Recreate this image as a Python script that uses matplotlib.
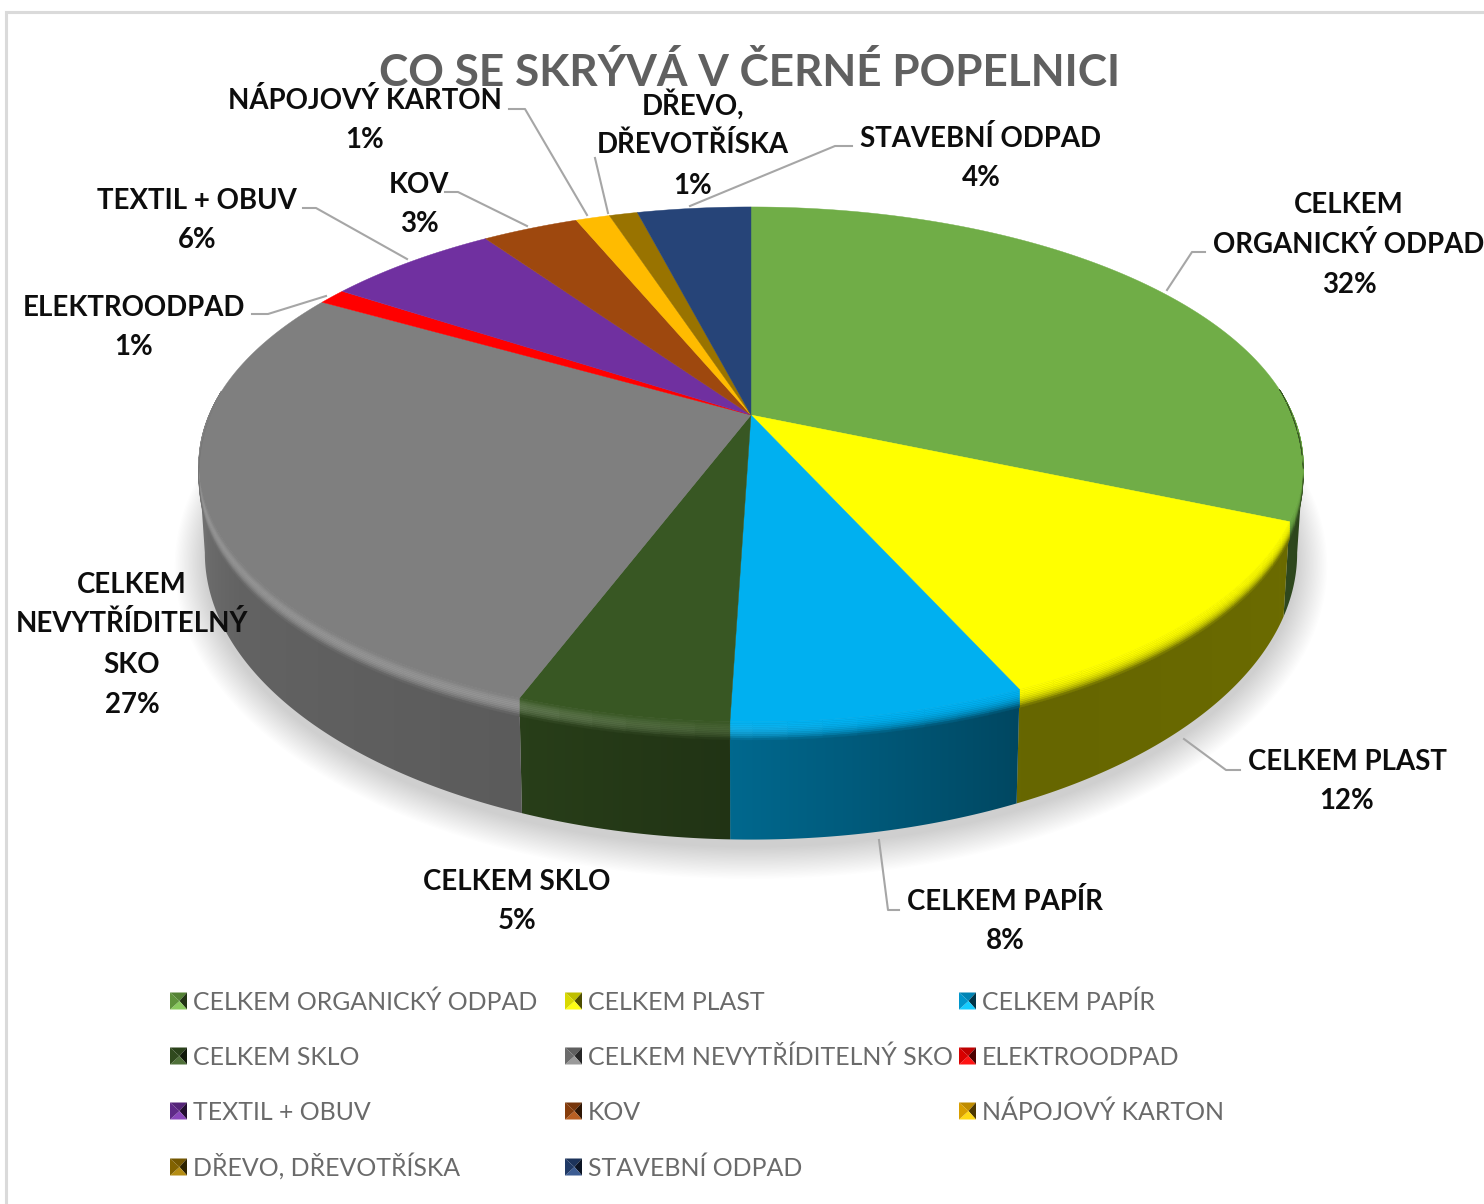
import numpy as np
import matplotlib
matplotlib.use("Agg")
import matplotlib.pyplot as plt
from matplotlib.collections import PolyCollection
from matplotlib.colors import to_rgb
from matplotlib.patches import PathPatch
from matplotlib.path import Path

categories = ["CELKEM ORGANICKÝ ODPAD", "CELKEM PLAST", "CELKEM PAPÍR", "CELKEM SKLO",
              "CELKEM NEVYTŘÍDITELNÝ SKO", "ELEKTROODPAD", "TEXTIL + OBUV", "KOV",
              "NÁPOJOVÝ KARTON", "DŘEVO, DŘEVOTŘÍSKA", "STAVEBNÍ ODPAD"]
values = [31.5, 11.8, 7.2, 5.2, 27.6, 1.0, 6.1, 3.4, 1.2, 1.0, 4.0]
pct_labels = ["32%", "12%", "8%", "5%", "27%", "1%", "6%", "3%", "1%", "1%", "4%"]
colors = ["#70AD47", "#FFFF00", "#00B0F0", "#385723", "#7F7F7F", "#FF0000",
          "#7030A0", "#9E480E", "#FFBB00", "#997300", "#264478"]
title = "CO SE SKRÝVÁ V ČERNÉ POPELNICI"

plt.rcParams["font.family"] = ["Lato", "DejaVu Sans"]
fig = plt.figure(figsize=(14.84, 12.04), dpi=100, facecolor="white")
ax = fig.add_axes([0, 0, 1, 1])
ax.axis("off")

# perspective geometry of the disc
CX, K = 751.0, 0.192
TOP = dict(yc=415.0, a=542.0, b=248.0)
BASE = dict(yc=498.0, a=536.0, b=276.0)


def project(theta_deg, r, plane):
    t = np.radians(theta_deg)
    x, y = r * np.sin(t), r * np.cos(t)
    w = 1 + K * y
    return CX + plane["a"] * x / w, plane["yc"] - plane["b"] * y / w


def rim_curve(theta_deg, s):
    """Rounded rim: s=0 is the edge of the flat face, s=1 where it meets the wall."""
    x, y = project(theta_deg, 1, TOP)
    g = np.interp(theta_deg, [85, 112, 250, 275], [0, 1, 1, 0])
    return x, y + 18 * g * s


wall_ang = [0, 100, 115, 155, 180, 201, 240, 259, 275, 360]
wall_fac = [.4, .4, .42, .40, .58, .72, .78, .88, 1.0, 1.0]

edges = np.concatenate([[0], np.cumsum(values)]) / np.sum(values) * 360

# soft shadow under the disc
for i in range(24):
    plane = dict(yc=BASE["yc"] + 8, a=BASE["a"] * (1 + 0.0024 * i), b=BASE["b"] * (1 + 0.0040 * i))
    px, py = project(np.linspace(0, 360, 361), 1, plane)
    ax.fill(px, py, color="#000000", alpha=0.009, lw=0, zorder=1)

# side wall: one clipped horizontal gradient per slice (front half only)
for v0, v1, c in zip(edges[:-1], edges[1:], colors):
    rgb = np.array(to_rgb(c))
    lo, hi = max(v0, 101), min(v1, 259)
    if lo >= hi:
        continue
    th = np.linspace(lo, hi, 160)
    xt, yt = project(th, 1, TOP)
    xb, yb = project(th, 1, BASE)
    verts = list(zip(xt, yt)) + list(zip(xb[::-1], yb[::-1])) + [(xt[0], yt[0])]
    path = Path(verts, closed=True)
    xmin, xmax = min(xt.min(), xb.min()) - 2, max(xt.max(), xb.max()) + 2
    ymin, ymax = min(yt.min(), yb.min()) - 2, max(yt.max(), yb.max()) + 2
    xs = np.arange(xmin, xmax, 1.0)
    t_of_x = np.interp(xs, xb[::-1], th[::-1])
    grad = rgb[None, None, :] * np.interp(t_of_x, wall_ang, wall_fac)[None, :, None]
    im = ax.imshow(np.clip(grad, 0, 1), extent=(xmin, xmax, ymax, ymin), aspect="auto",
                   interpolation="bilinear", zorder=2)
    im.set_clip_path(PathPatch(path, transform=ax.transData))

ax.set_xlim(0, 1484)
ax.set_ylim(1204, 0)

# top face with rounded rim
ring_s = np.linspace(0, 1, 11)
polys, cols = [], []
for v0, v1, c in zip(edges[:-1], edges[1:], colors):
    rgb = np.array(to_rgb(c))
    th = np.linspace(v0, v1, max(int((v1 - v0) * 2) + 2, 3))
    fx, fy = rim_curve(th, 0.0)
    polys.append([(CX, TOP["yc"])] + list(zip(fx, fy)))
    cols.append(rgb)
    chunks = np.arange(v0, v1, 3.0).tolist() + [v1]
    for t0, t1 in zip(chunks[:-1], chunks[1:]):
        tm = (t0 + t1) / 2
        if t1 <= 85 or t0 >= 275:
            continue
        tt = np.linspace(t0, t1, 9)
        for s0, s1 in zip(ring_s[:-1], ring_s[1:]):
            xa, ya = rim_curve(tt, s0)
            xb, yb = rim_curve(tt, s1)
            sm = (s0 + s1) / 2
            f = np.interp(tm, wall_ang, wall_fac)
            gl = 0.2 * np.interp(tm, [170, 200, 250, 275], [0, 1, 1, 0]) * np.sin(np.pi * sm)
            col = rgb * (1 - sm ** 2.5) + rgb * f * sm ** 2.5 + (1 - rgb) * gl
            polys.append(list(zip(xa, ya)) + list(zip(xb[::-1], yb[::-1])))
            cols.append(np.clip(col, 0, 1))
ax.add_collection(PolyCollection(polys, facecolors=cols, edgecolors=cols, linewidths=0.3, zorder=3))

# frame
ax.plot([6, 6, 1484], [1204, 12, 12], color="#DADADA", lw=2.2, zorder=0, solid_joinstyle="miter")

# title
ax.text(750, 86, title, ha="center", va="baseline", fontsize=31.8, fontweight="bold", color="#606060", zorder=4)

# leader lines
leaders = [
    [(1167, 290), (1192, 252), (1205, 252)],
    [(1184, 739), (1226, 770), (1240, 770)],
    [(879, 840), (888, 910), (899, 910)],
    [(690, 206), (835, 146), (852, 146)],
    [(608, 213), (595, 158)],
    [(587, 215), (525, 109), (509, 109)],
    [(527, 226), (458, 192), (445, 192)],
    [(407, 259), (316, 208), (303, 208)],
    [(326, 296), (268, 314), (252, 314)],
]
for seg in leaders:
    xs, ys = zip(*seg)
    ax.plot(xs, ys, color="#A6A6A6", lw=1.5, zorder=4)

# data labels: (category lines, centre x, line centres y)
label_lines = [
    (["CELKEM", "ORGANICKÝ ODPAD"], 1349, [203, 243, 283]),
    (["CELKEM PLAST"], 1347, [760, 799]),
    (["CELKEM PAPÍR"], 1005, [900, 939]),
    (["CELKEM SKLO"], 517, [880, 919]),
    (["CELKEM", "NEVYTŘÍDITELNÝ", "SKO"], 132, [583, 622, 663, 703]),
    (["ELEKTROODPAD"], 134, [306, 345]),
    (["TEXTIL + OBUV"], 197, [199, 238]),
    (["KOV"], 419, [183, 222]),
    (["NÁPOJOVÝ KARTON"], 365, [99, 138]),
    (["DŘEVO,", "DŘEVOTŘÍSKA"], 693, [105, 143, 184]),
    (["STAVEBNÍ ODPAD"], 981, [137, 176]),
]
for (lines, xc, ys), pct in zip(label_lines, pct_labels):
    for s, y in zip(lines + [pct], ys):
        ax.text(xc, y + 10, s, ha="center", va="baseline", fontsize=19.9, fontweight="bold",
                color="#0D0D0D", zorder=5, clip_on=True)

# legend
legend_col_x = [170, 565, 959]
legend_row_y = [1001, 1056, 1111, 1167]
S = 8.5
for i, (name, c) in enumerate(zip(categories, colors)):
    mx = legend_col_x[i % 3] + S
    my = legend_row_y[i // 3]
    rgb = np.array(to_rgb(c))
    tl, tr, br, bl = (mx - S, my - S), (mx + S, my - S), (mx + S, my + S), (mx - S, my + S)
    centre = (mx + 1, my)
    tris = [[tl, tr, centre], [tr, br, centre], [br, bl, centre], [bl, tl, centre]]
    shade = [rgb * 0.75, rgb * 0.3, np.clip(rgb * 1.05 + 0.08, 0, 1), rgb * 0.85]
    ax.add_collection(PolyCollection(tris, facecolors=shade, edgecolors="none", zorder=4))
    ax.text(mx + S + 6, my + 9, name, ha="left", va="baseline", fontsize=17.9, color="#6A6A6A", zorder=4)

fig.savefig("out.png", dpi=100, facecolor="white")
